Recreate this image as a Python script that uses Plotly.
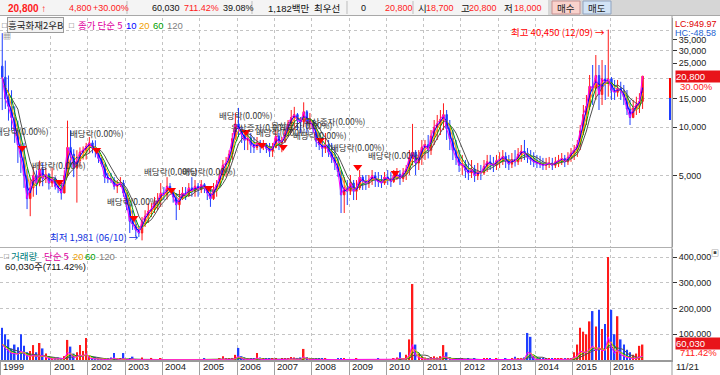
import numpy as np
import pandas as pd
import plotly.graph_objects as go

# ---------------- data (monthly, 1999-09 .. 2016-11) ----------------
START_MONTH = "1999-09-01"
END_MONTH = "2016-11-01"

OPEN = [
    24000, 20500, 15000, 13500,
    11500, 9500, 7800, 6500, 5000, 3600, 4200, 5000, 4500, 5500, 4800, 5100,
    4500, 4800, 4300, 4200, 3900, 5000, 7500, 6800, 5600, 6200, 7000, 7200,
    7600, 8000, 7400, 7200, 6400, 5900, 4900, 4800, 4700, 4300, 4400, 4500,
    3900, 3300, 2600, 2500, 2300, 2200, 2600, 2800, 3000, 3100, 3400, 3500,
    3900, 3800, 4300, 4100, 3700, 3300, 3600, 3900, 3800, 4200, 4000, 4300,
    4100, 4400, 4200, 3900, 3600, 4100, 4400, 5000, 5800, 6000, 6800, 8500,
    10500, 9800, 9000, 8300, 8600, 7800, 7500, 8000, 7600, 7800, 7400, 7100,
    7500, 8800, 8000, 8200, 9200, 10500, 11500, 12000, 11000, 10800, 12500, 10500,
    11000, 9800, 8200, 7800, 7400, 7800, 7000, 6500, 6000, 5300, 3800, 4200,
    4000, 4500, 4000, 4200, 4900, 4600, 4500, 4700, 5000, 4700, 4600, 4500,
    4900, 4800, 4600, 5000, 5100, 4800, 5200, 5500, 6500, 7000, 6000, 6500,
    7500, 7800, 7200, 8800, 10000, 10500, 11200, 12000, 9800, 8500, 7200, 6500,
    5800, 5900, 5400, 5200, 5500, 5000, 5300, 5200, 5700, 6100, 5900, 5800,
    6200, 6300, 6600, 6200, 5900, 6300, 6100, 6800, 7100, 6900, 6500, 6300,
    6100, 6000, 5900, 5800, 5900, 6000, 5800, 6100, 6200, 6400, 6100, 6500,
    6900, 7200, 7800, 9500, 12000, 13500, 18000, 17500, 21000, 16000, 20000, 19000,
    20000, 17000, 16500, 17500, 16800, 15500, 13000, 11500, 13200, 13800, 14500,
]
HIGH = [
    38500, 26000, 21000, 17000,
    13500, 11000, 9200, 8000, 5500, 4800, 5700, 5400, 6200, 6000, 5600, 5200,
    5600, 4950, 4700, 4500, 5400, 11000, 9600, 7300, 7200, 7500, 7600, 8000,
    8700, 8300, 8300, 7300, 6600, 5900, 5200, 5200, 4900, 4700, 4900, 4700,
    3950, 3400, 3050, 2650, 2400, 2770, 3050, 3380, 3380, 3690, 3900, 4500,
    4250, 4900, 4500, 4100, 3900, 4075, 4250, 4250, 4500, 4900, 4700, 4500,
    4700, 4500, 4255, 4075, 4500, 4700, 5400, 6260, 6540, 7200, 9200, 12270,
    13200, 10040, 9620, 9220, 9220, 8700, 8700, 8340, 8340, 7990, 7990, 7990,
    9620, 9220, 8700, 9620, 11100, 12810, 13400, 12270, 11590, 14300, 12810, 12270,
    11100, 10040, 9220, 8700, 9220, 8340, 7990, 7540, 6540, 5425, 4910, 4700,
    5050, 4700, 4700, 5425, 5050, 5050, 5050, 5425, 5270, 5270, 5050, 5270,
    5425, 5270, 5425, 5580, 5425, 5580, 5830, 7220, 10500, 7220, 7220, 8340,
    8340, 8960, 9620, 11100, 11930, 12810, 14100, 12810, 11100, 9620, 8340, 7220,
    6730, 6260, 6100, 6260, 5830, 6000, 5830, 6260, 6730, 6730, 6540, 6730,
    7000, 7220, 7000, 6730, 6920, 7220, 7430, 7760, 8340, 7430, 7220, 7000,
    6730, 6640, 6450, 6450, 6540, 6450, 6540, 6730, 6920, 6730, 7000, 7430,
    7760, 8340, 10330, 13760, 15880, 21150, 24400, 28150, 24400, 26210, 24400, 40450,
    20550, 19690, 19690, 19200, 18330, 17060, 14790, 14790, 15500, 16300, 20800,
]
LOW = [
    12800, 13000, 11000, 9600,
    8000, 6000, 5200, 4200, 3100, 2800, 3700, 3800, 4300, 4300, 4500, 4100,
    4250, 4100, 3900, 3550, 3900, 4900, 5700, 4900, 3400, 5700, 6300, 6300,
    6900, 6900, 6500, 6000, 5700, 4500, 4500, 4500, 4100, 3900, 4250, 3700,
    3050, 2200, 2300, 2100, 2080, 1981, 2400, 2540, 2770, 2930, 3060, 3200,
    3530, 3550, 3900, 3400, 2650, 3060, 3530, 3530, 3690, 3700, 3700, 3700,
    3900, 3900, 3530, 3200, 3530, 3700, 4250, 4700, 4910, 5425, 6260, 8340,
    8700, 7990, 7220, 7220, 6920, 6920, 7220, 6920, 7220, 6920, 6540, 6540,
    7400, 7220, 7000, 7990, 8700, 9220, 9620, 9620, 9220, 10040, 9220, 9620,
    9220, 7540, 7220, 6540, 6920, 6540, 6000, 5425, 4910, 2930, 2930, 3287,
    3795, 3530, 3530, 4075, 4075, 4075, 4195, 4380, 4255, 4255, 4195, 4380,
    4380, 4255, 4505, 4700, 4380, 4570, 4700, 5050, 5800, 5050, 5425, 5830,
    6260, 6400, 6730, 7760, 8340, 8960, 9620, 8340, 7220, 6260, 5830, 5270,
    5050, 4840, 4700, 4840, 4570, 4700, 4700, 5050, 5270, 5425, 5270, 5425,
    5580, 5830, 5580, 5425, 5580, 5700, 5830, 6100, 6260, 6000, 5830, 5660,
    5580, 5580, 5425, 5425, 5580, 5425, 5580, 5660, 5830, 5660, 5830, 6100,
    6260, 6540, 7220, 8960, 10330, 12810, 13760, 14790, 12810, 13760, 14790, 15500,
    14790, 14790, 15500, 14790, 13760, 11930, 10330, 11400, 11930, 12270, 13000,
]
CLOSE = [
    20500, 15000, 13500, 11500,
    9500, 7800, 6500, 5000, 3600, 4200, 5000, 4500, 5500, 4800, 5100, 4500,
    4800, 4300, 4200, 3900, 5000, 7500, 6800, 5600, 6200, 7000, 7200, 7600,
    8000, 7400, 7200, 6400, 5900, 4900, 4800, 4700, 4300, 4400, 4500, 3900,
    3300, 2600, 2500, 2300, 2200, 2600, 2800, 3000, 3100, 3400, 3500, 3900,
    3800, 4300, 4100, 3700, 3300, 3600, 3900, 3800, 4200, 4000, 4300, 4100,
    4400, 4200, 3900, 3600, 4100, 4400, 5000, 5800, 6000, 6800, 8500, 10500,
    9800, 9000, 8300, 8600, 7800, 7500, 8000, 7600, 7800, 7400, 7100, 7500,
    8800, 8000, 8200, 9200, 10500, 11500, 12000, 11000, 10800, 12500, 10500, 11000,
    9800, 8200, 7800, 7400, 7800, 7000, 6500, 6000, 5300, 3800, 4200, 4000,
    4500, 4000, 4200, 4900, 4600, 4500, 4700, 5000, 4700, 4600, 4500, 4900,
    4800, 4600, 5000, 5100, 4800, 5200, 5500, 6500, 7000, 6000, 6500, 7500,
    7800, 7200, 8800, 10000, 10500, 11200, 12000, 9800, 8500, 7200, 6500, 5800,
    5900, 5400, 5200, 5500, 5000, 5300, 5200, 5700, 6100, 5900, 5800, 6200,
    6300, 6600, 6200, 5900, 6300, 6100, 6800, 7100, 6900, 6500, 6300, 6100,
    6000, 5900, 5800, 5900, 6000, 5800, 6100, 6200, 6400, 6100, 6500, 6900,
    7200, 7800, 9500, 12000, 13500, 18000, 17500, 21000, 16000, 20000, 19000, 20000,
    17000, 16500, 17500, 16800, 15500, 13000, 11500, 13200, 13800, 14500, 20800,
]
VOLUME = [
    125000, 100000, 80000, 45000,
    60000, 50000, 100000, 55000, 30000, 35000, 58000, 30000, 66000, 45000, 25000, 15000,
    8000, 8000, 10000, 8000, 15000, 78000, 52000, 25000, 30000, 58000, 35000, 85000,
    15000, 10000, 12000, 8000, 6000, 5000, 5000, 10000, 27000, 6000, 5000, 27000,
    3000, 5000, 13000, 3000, 3000, 10000, 3000, 2000, 8000, 2000, 3000, 5000,
    2000, 2000, 3000, 2000, 2000, 2000, 2000, 2000, 2000, 2000, 2000, 2000,
    2000, 5000, 3000, 2000, 2000, 3000, 5000, 15000, 6000, 5000, 8000, 20000,
    47000, 15000, 10000, 6000, 5000, 8000, 27000, 10000, 5000, 4000, 6000, 4000,
    4000, 3000, 5000, 5000, 8000, 12000, 10000, 8000, 10000, 43000, 12000, 8000,
    5000, 4000, 6000, 4000, 5000, 3000, 3000, 3000, 4000, 6000, 5000, 3000,
    3000, 3000, 4000, 3000, 3000, 3000, 3000, 3000, 3000, 6000, 3000, 3000,
    3000, 3000, 4000, 10000, 30000, 8000, 20000, 80000, 295000, 60000, 25000, 15000,
    10000, 8000, 12000, 15000, 10000, 15000, 58000, 30000, 10000, 8000, 6000, 5000,
    4000, 3000, 4000, 3000, 4000, 3000, 3000, 4000, 5000, 4000, 3000, 4000,
    3000, 3000, 4000, 3000, 6000, 13000, 6000, 8000, 10000, 105000, 90000, 15000,
    4000, 4000, 5000, 4000, 4000, 5000, 4000, 4000, 5000, 5000, 8000, 8000,
    30000, 60000, 125000, 110000, 100000, 150000, 190000, 130000, 195000, 120000, 140000, 400000,
    195000, 100000, 170000, 80000, 60000, 40000, 30000, 20000, 25000, 55000, 60030,
]
VOL_AVG = [
    60000, 45000, 35000, 25000,
    25000, 22000, 35000, 25000, 15000, 15000, 18000, 14000, 15000, 18000, 10000, 7000,
    4000, 4000, 4000, 4000, 6000, 30000, 22000, 10000, 12000, 20000, 14000, 25000,
    8000, 5000, 5000, 4000, 3000, 2000, 2000, 3000, 8000, 3000, 2000, 6000,
    1000, 2000, 4000, 1000, 1000, 3000, 1000, 1000, 2000, 1000, 1000, 2000,
    1000, 1000, 1000, 1000, 1000, 1000, 1000, 1000, 1000, 1000, 1000, 1000,
    1000, 1000, 1000, 1000, 1000, 1000, 1000, 4000, 2000, 2000, 3000, 6000,
    15000, 5000, 3000, 2000, 2000, 2000, 8000, 3000, 2000, 1000, 2000, 1000,
    1000, 1000, 2000, 2000, 3000, 4000, 3000, 3000, 3000, 12000, 4000, 3000,
    2000, 1000, 2000, 1000, 2000, 1000, 1000, 1000, 1000, 2000, 2000, 1000,
    1000, 1000, 1000, 1000, 1000, 1000, 1000, 1000, 1000, 2000, 1000, 1000,
    1000, 1000, 1000, 3000, 8000, 2000, 6000, 20000, 60000, 18000, 8000, 5000,
    3000, 3000, 4000, 5000, 3000, 5000, 15000, 8000, 3000, 2000, 2000, 2000,
    1000, 1000, 1000, 1000, 1000, 1000, 1000, 1000, 1000, 1000, 1000, 1000,
    1000, 1000, 1000, 1000, 2000, 4000, 2000, 3000, 3000, 30000, 25000, 5000,
    1000, 1000, 1000, 1000, 1000, 1000, 1000, 1000, 1000, 1000, 2000, 3000,
    10000, 15000, 35000, 30000, 30000, 45000, 55000, 35000, 50000, 35000, 40000, 90000,
    50000, 25000, 40000, 20000, 15000, 10000, 8000, 6000, 7000, 12000, 15000,
]

PRICE_TICKS = [5000, 10000, 15000, 25000, 30000, 35000]
PRICE_GRID = [5000, 10000, 15000, 20000, 30000, 40000]
VOL_TICKS = [100000, 200000, 300000, 400000]

YEAR_LABELS = ["1999", "2001", "2002", "2003", "2004", "2005", "2006", "2007", "2008",
               "2009", "2010", "2011", "2012", "2013", "2014", "2015", "2016"]
YEAR_TICKS = ["1999-08-25", "2001-01-01", "2002-01-01", "2003-01-01", "2004-01-01",
              "2005-01-01", "2006-01-01", "2007-01-01", "2008-01-01", "2009-01-01",
              "2010-01-01", "2011-01-01", "2012-01-01", "2013-01-01", "2014-01-01",
              "2015-01-01", "2016-01-01"]

EVENT_DATES = ["2000-03-28", "2001-03-28", "2002-03-27", "2003-03-27", "2004-03-29",
               "2005-03-29", "2006-03-29", "2006-09-01", "2007-03-28", "2007-09-27",
               "2008-03-27", "2008-08-15", "2009-03-27", "2010-03-29"]
EVENT_TEXT = ["배당락(0.00%)", "배당락(0.00%)", "배당락(0.00%)", "배당락(0.00%)", "배당락(0.00%)",
              "배당락(0.00%)", "배당락(0.00%)", "유상증자(0.00%)", "배당락(0.00%)", "무상증자(0.00%)",
              "배당락(0.00%)", "무상증자(0.00%)", "배당락(0.00%)", "배당락(0.00%)"]
EVENT_LABEL_LEVEL = [9500, 5830, 9220, 3480, 5350, 5350, 11930, 10100, 9400, 10400,
                     9000, 11000, 7540, 6730]
EVENT_ARROW_LEVEL = [7430, 4570, 7220, 2730, 4075, 4195, 9350, 7760, 7540, None,
                     8340, None, 5660, 5200]

HIGH_TEXT = "최고 40,450 (12/09) →"
LOW_TEXT = "최저 1,981 (06/10) →"

# ---------------- geometry / styles ----------------
W, H = 720, 375
ML, MR, MT, MB = 0, 48, 18, 15
PW, PH = W - ML - MR, H - MT - MB


def px_x(x):
    return (x - ML) / PW


def px_y(y):
    return (H - MB - y) / PH


NUM = "Liberation Sans, Noto Sans CJK KR"
KR = "Noto Sans CJK KR"
RED = "#ff1a1a"
BLUE = "#1f3fff"
X_RANGE = ["1999-08-24", "2017-08-30"]

dates = pd.date_range(START_MONTH, END_MONTH, freq="MS") + pd.Timedelta(days=14)
assert len(dates) == len(OPEN) == len(HIGH) == len(LOW) == len(CLOSE) == len(VOLUME) == len(VOL_AVG)

fig = go.Figure()

# candles
fig.add_trace(go.Candlestick(
    x=dates, open=OPEN, high=HIGH, low=LOW, close=CLOSE,
    increasing=dict(line=dict(color=RED, width=1), fillcolor=RED),
    decreasing=dict(line=dict(color=BLUE, width=1), fillcolor=BLUE),
    whiskerwidth=0, xaxis="x", yaxis="y", hoverinfo="skip", showlegend=False))

close_s = pd.Series(CLOSE, dtype=float)
PRICE_MA = [(120, 6, "#505050"), (60, 4, "#00a000"), (20, 3, "#ffa500"),
            (10, 2, "#0000ff"), (5, 1, "#ff00ff")]
for _, win, col in PRICE_MA:
    fig.add_trace(go.Scatter(x=dates, y=close_s.rolling(win, min_periods=1).mean(),
                             mode="lines", line=dict(color=col, width=1),
                             xaxis="x", yaxis="y", hoverinfo="skip", showlegend=False))

# event arrows
arr_x = [d for d, a in zip(EVENT_DATES, EVENT_ARROW_LEVEL) if a is not None]
arr_y = [a for a in EVENT_ARROW_LEVEL if a is not None]
fig.add_trace(go.Scatter(x=arr_x, y=arr_y, mode="markers",
                         marker=dict(symbol="triangle-down", size=8, color="#ff0000"),
                         xaxis="x", yaxis="y", hoverinfo="skip", showlegend=False))

# volume
vol_colors = [RED if c >= o else BLUE for o, c in zip(OPEN, CLOSE)]
fig.add_trace(go.Bar(x=dates, y=VOLUME, width=15 * 86400000,
                     marker=dict(color=vol_colors, line=dict(width=0)),
                     xaxis="x2", yaxis="y2", hoverinfo="skip", showlegend=False))
vavg = pd.Series(VOL_AVG, dtype=float)
VOL_MA = [(120, 6, "#505050"), (60, 3, "#00a000"), (20, 2, "#ffc000"), (5, 1, "#ff00ff")]
for _, win, col in VOL_MA:
    fig.add_trace(go.Scatter(x=dates, y=vavg.rolling(win, min_periods=1).mean(),
                             mode="lines", line=dict(color=col, width=1),
                             xaxis="x2", yaxis="y2", hoverinfo="skip", showlegend=False))

grid = dict(showgrid=True, gridcolor="#c4c4c4", griddash="dot", gridwidth=1)

fig.update_layout(
    width=W, height=H, margin=dict(l=ML, r=MR, t=MT, b=MB),
    paper_bgcolor="white", plot_bgcolor="white", showlegend=False, hovermode=False,
    xaxis=dict(type="date", range=X_RANGE, anchor="y", domain=[0, 1],
               tickmode="array", tickvals=YEAR_TICKS, showticklabels=False, ticks="",
               zeroline=False, showline=False, rangeslider=dict(visible=False), **grid),
    xaxis2=dict(type="date", range=X_RANGE, anchor="y2", domain=[0, 1], matches="x",
                tickmode="array", tickvals=YEAR_TICKS, showticklabels=False,
                ticks="outside", ticklen=15, tickcolor="#a0a0a0", tickwidth=1,
                showline=True, linecolor="#9a9a9a", linewidth=2, zeroline=False, **grid),
    yaxis=dict(type="log", range=[3.2556, 4.6797], domain=[px_y(247), 1], side="right",
               tickmode="array", tickvals=PRICE_TICKS,
               ticktext=[f"{v:,}" for v in PRICE_TICKS],
               ticks="outside", ticklen=4, tickcolor="#333", showgrid=False,
               minor=dict(tickmode="array", tickvals=PRICE_GRID, showgrid=True,
                          gridcolor="#c4c4c4", griddash="dot", ticks=""),
               tickfont=dict(family=NUM, size=9, color="#222"),
               showline=True, linecolor="#9a9a9a", linewidth=1, zeroline=False),
    yaxis2=dict(range=[0, 431068], domain=[0, px_y(249)], side="right",
                tickmode="array", tickvals=VOL_TICKS,
                ticktext=[f"{v:,}" for v in VOL_TICKS],
                ticks="outside", ticklen=4, tickcolor="#333",
                tickfont=dict(family=NUM, size=9, color="#222"),
                showline=True, linecolor="#9a9a9a", linewidth=1, zeroline=False, **grid),
)

shapes = []


def rect(x0, y0, x1, y1, fill, line=None):
    shapes.append(dict(type="rect", xref="paper", yref="paper",
                       x0=px_x(x0), x1=px_x(x1), y0=px_y(y1), y1=px_y(y0),
                       fillcolor=fill, line=dict(width=1 if line else 0, color=line or fill),
                       layer="above"))


def hline(x0, x1, y, color, width=1):
    shapes.append(dict(type="line", xref="paper", yref="paper", x0=px_x(x0), x1=px_x(x1),
                       y0=px_y(y), y1=px_y(y), line=dict(color=color, width=width)))


def vline(x, y0, y1, color, width=1):
    shapes.append(dict(type="line", xref="paper", yref="paper", x0=px_x(x), x1=px_x(x),
                       y0=px_y(y0), y1=px_y(y1), line=dict(color=color, width=width)))


# header
rect(0, 0, 548, 15, "#f4f4f4")
rect(548, 0, 720, 15, "#d6d6d6")
for sx in [127, 252, 347, 413]:
    vline(sx, 1, 14, "#bdbdbd")
rect(552, 1, 580, 14, "#f9d2cc", "#c89090")
rect(583, 1, 611, 14, "#d2e3f5", "#8fa3c0")
hline(0, 720, 15.5, "#a8a8a8")
# panel separator and right frame line
hline(0, 672, 247.5, "#b0b0b0")
vline(672, 16, 375, "#9a9a9a")
# red / blue range bar near right axis
vline(670, 78, 98, "#ff0000", 2)
vline(670, 98, 120, "#1f3fff", 2)

fig.update_layout(shapes=shapes)

anns = []


def txt(x, y, text, color="#111", size=9, family=NUM, xanchor="left", **kw):
    d = dict(xref="paper", yref="paper", x=px_x(x), y=px_y(y), text=text, showarrow=False,
             xanchor=xanchor, yanchor="middle", font=dict(color=color, size=size, family=family))
    d.update(kw)
    anns.append(d)


# header texts
txt(6, 8, "<b>20,800 ↑</b>", RED, 10)
txt(67, 8, "4,800", RED)
txt(91, 8, "+30.00%", RED)
txt(150, 8, "60,030", "#111")
txt(182, 8, "711.42%", RED)
txt(221, 8, "39.08%", "#111")
txt(266, 8, "1,182백만", "#111", 9.5)
txt(312, 8, "최우선", "#111", 9.5, KR)
txt(359, 8, "0", "#111")
txt(383, 8, "20,800", RED)
txt(416, 8, "시", "#111", 9.5, KR)
txt(424, 8, "18,700", RED)
txt(459, 8, "고", "#111", 9.5, KR)
txt(467, 8, "20,800", RED)
txt(502, 8, "저", "#111", 9.5, KR)
txt(512, 8, "18,000", RED)
txt(566, 8, "매수", "#222", 9.5, KR, xanchor="center")
txt(597, 8, "매도", "#222", 9.5, KR, xanchor="center")

# price legend
txt(0, 25, "□", "#555", 8)
txt(7, 25, "흥국화재2우B", "#222", 9.5, KR, bgcolor="#f2f2f2", bordercolor="#9a9a9a",
    borderwidth=1, borderpad=0)
txt(67, 25, "□", "#555", 8)
txt(76, 25, "종가 단순 5", "#e000a0", 9.5, KR)
txt(124, 25, "10", "#0000ff", 9.5)
txt(137, 25, "20", "#f0a000", 9.5)
txt(151, 25, "60", "#00a000", 9.5)
txt(165, 25, "120", "#808080", 9.5)
txt(1, 36, "▦", "#555", 8)

# volume legend
txt(2, 256, "□", "#555", 8)
txt(9, 256, "거래량", "#008080", 9.5, KR)
txt(42, 256, "단순 5", "#e000a0", 9.5, KR)
txt(71, 256, "20", "#f0a000", 9.5)
txt(83, 256, "60", "#00a000", 9.5)
txt(97, 256, "120", "#808080", 9.5)
txt(3, 266, f"{VOLUME[-1]:,}주(711.42%)", "#111", 9.5)
txt(709, 253, "▣", "#444", 8)

# right side labels
txt(673, 24, "LC:949.97", "#e00000", 9)
txt(673, 33, "HC:-48.58", "#1f5fd0", 9)
txt(674, 367, "11/21", "#222", 9.5)

anns.append(dict(xref="paper", yref="y", x=1, y=np.log10(CLOSE[-1]), xanchor="left",
                 yanchor="middle", xshift=3, text=f"{CLOSE[-1]:,}", showarrow=False,
                 bgcolor="#e8141a", width=44, align="left", borderpad=0,
                 font=dict(color="white", size=9.5, family=NUM)))
anns.append(dict(xref="paper", yref="y", x=1, y=np.log10(CLOSE[-1]), xanchor="left",
                 yanchor="middle", xshift=6, yshift=-10, text="30.00%", showarrow=False,
                 font=dict(color="#ff2020", size=9.5, family=NUM)))
anns.append(dict(xref="paper", yref="y2", x=1, y=VOLUME[-1], xanchor="left",
                 yanchor="middle", xshift=3, yshift=1, text=f"{VOLUME[-1]:,}", showarrow=False,
                 bgcolor="#e8141a", width=44, align="left", borderpad=0,
                 font=dict(color="white", size=9.5, family=NUM)))
anns.append(dict(xref="paper", yref="y2", x=1, y=VOLUME[-1], xanchor="left",
                 yanchor="middle", xshift=6, yshift=-8, text="711.42%", showarrow=False,
                 font=dict(color="#ff2020", size=9.5, family=NUM)))

# year labels
for lab, tv in zip(YEAR_LABELS, YEAR_TICKS):
    anns.append(dict(xref="x2", yref="paper", x=tv, y=px_y(367), xanchor="left",
                     yanchor="middle", xshift=1, text=lab, showarrow=False,
                     font=dict(color="#222", size=9.5, family=NUM)))

# corporate event labels
for d, t, lv in zip(EVENT_DATES, EVENT_TEXT, EVENT_LABEL_LEVEL):
    anns.append(dict(xref="x", yref="y", x=d, y=np.log10(lv), xanchor="center",
                     yanchor="middle", text=t, showarrow=False,
                     font=dict(color="#333", size=8.5, family=KR)))

# high / low
i_hi = int(np.argmax(HIGH))
i_lo = int(np.argmin(LOW))
anns.append(dict(xref="x", yref="y", x=dates[i_hi], y=np.log10(HIGH[i_hi]) - 0.012,
                 xanchor="right", yanchor="middle", xshift=-1, text=HIGH_TEXT,
                 showarrow=False, font=dict(color="#ff0000", size=9.5, family=KR)))
anns.append(dict(xref="x", yref="y", x=dates[i_lo], y=np.log10(LOW[i_lo]) + 0.02,
                 xanchor="right", yanchor="middle", xshift=-1, text=LOW_TEXT,
                 showarrow=False, font=dict(color="#1030e0", size=9.5, family=KR)))

fig.update_layout(annotations=anns)
fig.write_html("out.html")
